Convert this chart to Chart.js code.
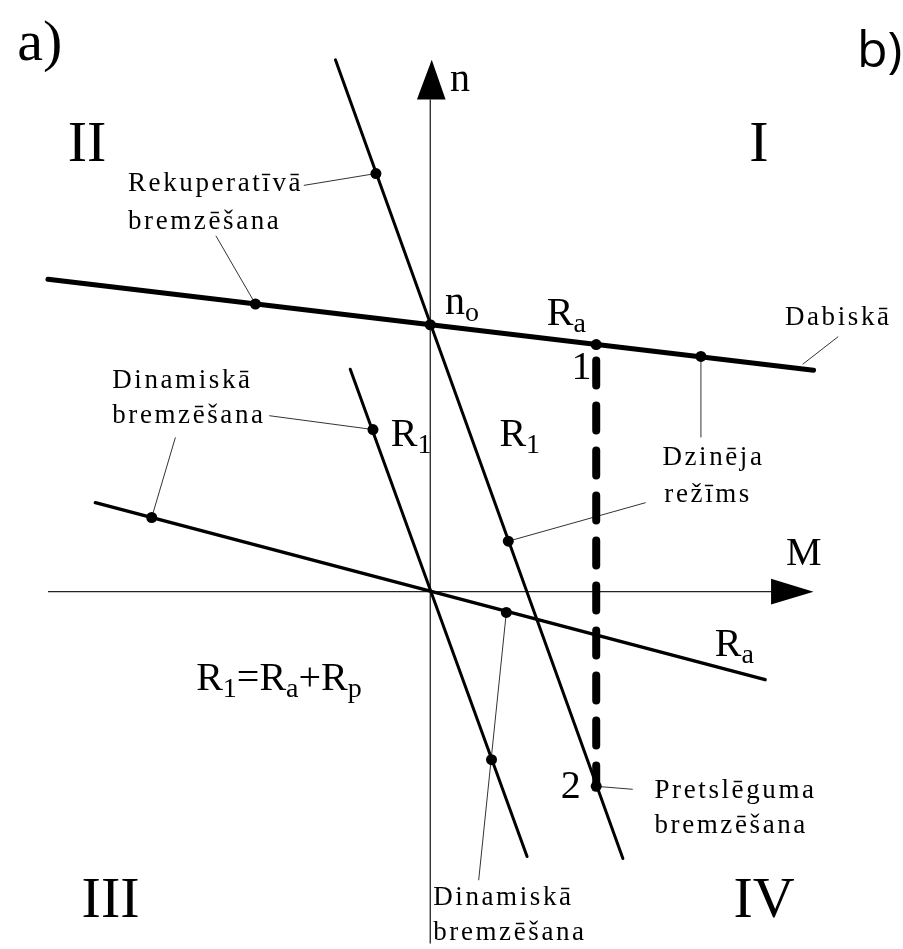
<!DOCTYPE html>
<html>
<head>
<meta charset="utf-8">
<script src="https://cdn.jsdelivr.net/npm/chart.js@4/dist/chart.umd.min.js"></script>
<style>
  html, body { margin: 0; padding: 0; background: #fff; }
  #wrap { width: 903px; height: 949px; }
</style>
</head>
<body>
<div id="wrap"><canvas id="c" width="903" height="949"></canvas></div>
<script>
// Mechanical characteristics n(M) of a DC motor, as end points [M, n] (relative units)
const naturalM  = [-38.7, 38.8];   // natural characteristic, armature resistance Ra
const naturalN  = [31.6, 22.4];
const rheostatM = [-9.6, 19.5];    // characteristic with added resistance, R1 = Ra + Rp
const rheostatN = [53.8, -27.0];
const dynR1M    = [-8.1, 9.8];     // dynamic braking through R1
const dynR1N    = [22.5, -26.8];
const dynRaM    = [-33.9, 33.9];   // dynamic braking through Ra
const dynRaN    = [9.0, -8.9];
const switchM   = [16.8, 16.8];    // transition 1 -> 2 (plugging)
const switchN   = [25.0, -19.7];

// Operating points marked on the characteristics
const pointM = [-5.5, -17.7, 0, 16.8, 27.4, 7.9, 16.8, -5.8, -28.2, 7.7, 6.2];
const pointN = [42.3, 29.1, 27.0, 25.0, 23.8, 5.1, -19.7, 16.4, 7.5, -2.1, -17.0];

const pairs = (xs, ys) => xs.map((x, i) => ({ x: x, y: ys[i] }));

const SERIF = '"Liberation Serif", "Times New Roman", serif';

// Callout texts: [M, n, text]
const callouts = [
  [-30.6, 40.5, 'Rekuperatīvā'],
  [-30.6, 36.7, 'bremzēšana'],
  [-32.2, 20.6, 'Dinamiskā'],
  [-32.2, 17.1, 'bremzēšana'],
  [35.9, 27.0, 'Dabiskā'],
  [23.5, 12.8, 'Dzinēja'],
  [23.7, 9.1, 'režīms'],
  [22.7, -20.9, 'Pretslēguma'],
  [22.7, -24.4, 'bremzēšana'],
  [0.3, -31.7, 'Dinamiskā'],
  [0.3, -35.2, 'bremzēšana']
];

// Leader lines from callouts to points
const leaders = [
  [[-12.8, 41.1], [-5.5, 42.3]],
  [[-21.7, 36.0], [-17.7, 29.1]],
  [[-16.3, 17.8], [-5.8, 16.4]],
  [[-25.8, 15.6], [-28.2, 7.5]],
  [[27.4, 23.8], [27.4, 15.6]],
  [[21.8, 9.0], [7.9, 5.1]],
  [[41.3, 25.8], [37.7, 23.0]],
  [[16.8, -19.7], [20.5, -20.0]],
  [[4.9, -29.2], [7.7, -2.1]]
];

// Formula-style labels: [M, n, [[text, isSubscript], ...]]
const symbols = [
  [1.5, 28.1, [['n', 0], ['o', 1]]],
  [11.8, 27.0, [['R', 0], ['a', 1]]],
  [14.3, 21.5, [['1', 0]]],
  [-4.0, 14.7, [['R', 0], ['1', 1]]],
  [7.0, 14.7, [['R', 0], ['1', 1]]],
  [36.0, 2.7, [['M', 0]]],
  [28.8, -6.5, [['R', 0], ['a', 1]]],
  [13.2, -20.9, [['2', 0]]],
  [-23.7, -10.0, [['R', 0], ['1', 1], ['=R', 0], ['a', 1], ['+R', 0], ['p', 1]]],
  [2.0, 50.6, [['n', 0]]]
];

// Quadrant numerals
const quadrants = [
  [-36.7, 43.6, 'II'],
  [32.3, 43.6, 'I'],
  [-35.3, -32.9, 'III'],
  [30.7, -32.9, 'IV']
];

const decorations = {
  id: 'decorations',
  beforeDatasetsDraw(chart) {
    const ctx = chart.ctx, sx = chart.scales.x, sy = chart.scales.y;
    const X = v => sx.getPixelForValue(v), Y = v => sy.getPixelForValue(v);
    ctx.save();
    ctx.strokeStyle = '#222';
    ctx.fillStyle = '#000';
    ctx.lineWidth = 1.3;
    // M axis
    ctx.beginPath();
    ctx.moveTo(X(-38.7), Y(0));
    ctx.lineTo(X(34.5), Y(0));
    ctx.stroke();
    ctx.beginPath();
    ctx.moveTo(X(38.8), Y(0));
    ctx.lineTo(X(34.5), Y(1.3));
    ctx.lineTo(X(34.5), Y(-1.3));
    ctx.closePath();
    ctx.fill();
    // n axis
    ctx.beginPath();
    ctx.moveTo(X(0), Y(-35.6));
    ctx.lineTo(X(0), Y(49.8));
    ctx.stroke();
    ctx.beginPath();
    ctx.moveTo(X(0.15), Y(53.8));
    ctx.lineTo(X(-1.35), Y(49.8));
    ctx.lineTo(X(1.55), Y(49.8));
    ctx.closePath();
    ctx.fill();
    // leader lines
    ctx.lineWidth = 1;
    ctx.strokeStyle = '#333';
    leaders.forEach(([a, b]) => {
      ctx.beginPath();
      ctx.moveTo(X(a[0]), Y(a[1]));
      ctx.lineTo(X(b[0]), Y(b[1]));
      ctx.stroke();
    });
    ctx.restore();
  },
  afterDatasetsDraw(chart) {
    const ctx = chart.ctx, sx = chart.scales.x, sy = chart.scales.y;
    const X = v => sx.getPixelForValue(v), Y = v => sy.getPixelForValue(v);
    ctx.save();
    ctx.fillStyle = '#000';
    ctx.textBaseline = 'alphabetic';
    ctx.textAlign = 'left';

    // spaced callout text
    ctx.font = '27px ' + SERIF;
    callouts.forEach(([m, n, t]) => {
      let x = X(m);
      const y = Y(n);
      for (const ch of t) {
        ctx.fillText(ch, x, y);
        x += ctx.measureText(ch).width + 2.6;
      }
    });

    // symbols with subscripts
    symbols.forEach(([m, n, parts]) => {
      let x = X(m);
      const y = Y(n);
      parts.forEach(([t, sub]) => {
        ctx.font = (sub ? '28px ' : '40px ') + SERIF;
        ctx.fillText(t, x, y + (sub ? 7 : 0));
        x += ctx.measureText(t).width;
      });
    });

    // quadrant numerals
    ctx.font = '58px ' + SERIF;
    quadrants.forEach(([m, n, t]) => ctx.fillText(t, X(m), Y(n)));

    // panel letters
    ctx.font = '58px ' + SERIF;
    ctx.fillText('a)', X(-41.8), Y(53.8));
    ctx.font = '50px "Open Sans", "Noto Sans", sans-serif';
    ctx.fillText('b)', X(43.2), Y(53.1));
    ctx.restore();
  }
};

const lineDs = (xs, ys, w, extra) => Object.assign({
  type: 'scatter',
  data: pairs(xs, ys),
  showLine: true,
  borderColor: '#000',
  backgroundColor: '#000',
  borderWidth: w,
  pointRadius: 0,
  borderCapStyle: 'round',
  clip: false
}, extra || {});

new Chart(document.getElementById('c'), {
  type: 'scatter',
  data: {
    datasets: [
      lineDs(naturalM, naturalN, 5),
      lineDs(rheostatM, rheostatN, 3),
      lineDs(dynR1M, dynR1N, 3),
      lineDs(dynRaM, dynRaN, 3.5),
      lineDs(switchM, switchN, 8, { borderDash: [25, 20], borderDashOffset: 29 }),
      {
        type: 'scatter',
        data: pairs(pointM, pointN),
        pointRadius: 5.5,
        pointBackgroundColor: '#000',
        pointBorderWidth: 0,
        showLine: false,
        clip: false
      }
    ]
  },
  options: {
    responsive: false,
    animation: false,
    events: [],
    layout: { padding: 0 },
    plugins: { legend: { display: false }, tooltip: { enabled: false } },
    scales: {
      x: { type: 'linear', min: -43, max: 47.3, display: false },
      y: { type: 'linear', min: -35.6, max: 59.3, display: false }
    }
  },
  plugins: [decorations]
});
</script>
</body>
</html>
